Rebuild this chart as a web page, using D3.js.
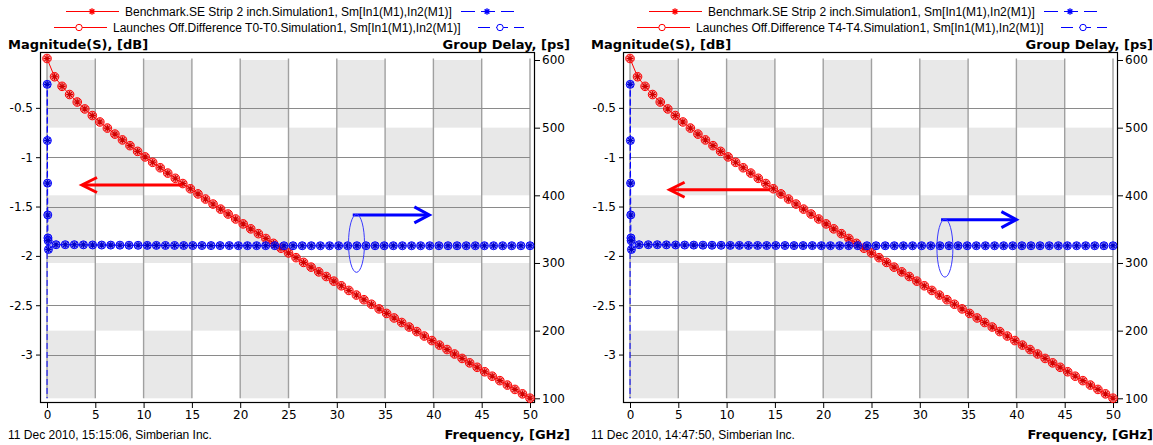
<!DOCTYPE html>
<html><head><meta charset="utf-8">
<script src="https://cdn.jsdelivr.net/npm/d3@7"></script>
<style>body{margin:0;background:#fff}svg{display:block}</style>
</head><body>
<svg id="chart" width="1153" height="445"></svg>
<script>
// ---------------- DATA ----------------
const freqRed = [0,0.78,1.56,2.34,3.13,3.91,4.69,5.47,6.25,7.03,7.81,8.59,9.38,10.16,10.94,11.72,12.5,13.28,14.06,14.84,15.63,16.41,17.19,17.97,18.75,19.53,20.31,21.09,21.88,22.66,23.44,24.22,25,25.78,26.56,27.34,28.13,28.91,29.69,30.47,31.25,32.03,32.81,33.59,34.38,35.16,35.94,36.72,37.5,38.28,39.06,39.84,40.63,41.41,42.19,42.97,43.75,44.53,45.31,46.09,46.88,47.66,48.44,49.22,50];
const magDb = [0,-0.185,-0.282,-0.365,-0.441,-0.511,-0.578,-0.643,-0.705,-0.766,-0.825,-0.883,-0.941,-0.997,-1.052,-1.107,-1.161,-1.214,-1.267,-1.32,-1.372,-1.424,-1.475,-1.526,-1.576,-1.626,-1.676,-1.726,-1.775,-1.824,-1.873,-1.922,-1.97,-2.018,-2.066,-2.114,-2.162,-2.209,-2.256,-2.303,-2.35,-2.397,-2.444,-2.49,-2.537,-2.583,-2.629,-2.675,-2.721,-2.767,-2.812,-2.858,-2.904,-2.949,-2.994,-3.039,-3.084,-3.129,-3.174,-3.219,-3.264,-3.309,-3.353,-3.398,-3.442];
const freqBlue = [0,0.02,0.04,0.06,0.08,0.1,0.12,0.15,0.94,1.89,2.83,3.77,4.72,5.66,6.6,7.55,8.49,9.43,10.38,11.32,12.26,13.21,14.15,15.09,16.04,16.98,17.92,18.87,19.81,20.75,21.7,22.64,23.58,24.53,25.47,26.42,27.36,28.3,29.25,30.19,31.13,32.08,33.02,33.96,34.91,35.85,36.79,37.74,38.68,39.62,40.57,41.51,42.45,43.4,44.34,45.28,46.23,47.17,48.11,49.06,50];
const delayPs = [0,564,481,418,371,337,333,320,327,327,327,326.8,326.6,326.5,326.4,326.3,326.2,326.1,326,326,325.9,325.9,325.8,325.8,325.8,325.7,325.7,325.7,325.6,325.6,325.6,325.6,325.6,325.5,325.5,325.5,325.5,325.5,325.5,325.5,325.5,325.5,325.5,325.5,325.5,325.5,325.5,325.5,325.5,325.5,325.5,325.5,325.5,325.5,325.5,325.5,325.5,325.5,325.5,325.5,325.5];

const freqTicks = [0,5,10,15,20,25,30,35,40,45,50];
const dbTicks = [-0.5,-1,-1.5,-2,-2.5,-3];
const dbTickLabels = ["-0.5","-1","-1.5","-2","-2.5","-3"];
const psTicks = [100,200,300,400,500,600];

const legendRow1 = "Benchmark.SE Strip 2 inch.Simulation1, Sm[In1(M1),In2(M1)]";
const legendRow2Left = "Launches Off.Difference T0-T0.Simulation1, Sm[In1(M1),In2(M1)]";
const legendRow2Right = "Launches Off.Difference T4-T4.Simulation1, Sm[In1(M1),In2(M1)]";
const dateLeft = "11 Dec 2010, 15:15:06, Simberian Inc.";
const dateRight = "11 Dec 2010, 14:47:50, Simberian Inc.";
const yLeftTitle = "Magnitude(S), [dB]";
const yRightTitle = "Group Delay, [ps]";
const xTitle = "Frequency, [GHz]";

// annotation arrows (data units)
const redArrowLeft = {from:[13.98,-1.282], to:[3.62,-1.282]};
const blueArrowLeft = {from:[31.65,371], to:[39.58,371], ellipse:[32.04,329]};
const redArrowRight = {from:[14.5,-1.33], to:[4.1,-1.33]};
const blueArrowRight = {from:[32.2,364], to:[40.0,364], ellipse:[32.6,322]};

// ---------------- DRAW ----------------
const svg = d3.select("#chart");
svg.append("rect").attr("width",1153).attr("height",445).attr("fill","#fff");

const RED = "#ff0000", BLUE = "#0000ff";
const TXT = "'Liberation Sans', Arial, sans-serif";
const TICKF = "'DejaVu Sans', sans-serif";

function starPath(s){ const d=s*0.72; return `M${-s},0H${s}M0,${-s}V${s}M${-d},${-d}L${d},${d}M${-d},${d}L${d},${-d}`; }

const panels = [
  {dx:0, row2:legendRow2Left, date:dateLeft, red:redArrowLeft, blue:blueArrowLeft, id:"p0"},
  {dx:583, row2:legendRow2Right, date:dateRight, red:redArrowRight, blue:blueArrowRight, id:"p1"}
];

panels.forEach(p => {
  const g = svg.append("g").attr("transform", `translate(${p.dx},0)`);
  const x = d3.scaleLinear().domain([0,50]).range([47,530]);
  const yL = d3.scaleLinear().domain([-3.442,0]).range([398.2,58.5]);
  const yR = d3.scaleLinear().domain([100,600]).range([398.3,60]);

  // checkerboard cells
  const xBands = d3.pairs(freqTicks);
  const yBands = d3.pairs(psTicks.slice().reverse());
  const cells = [];
  xBands.forEach((xb,i) => yBands.forEach((yb,j) => { if ((i+j)%2===0) cells.push({xb,yb}); }));
  g.append("g").selectAll("rect").data(cells).join("rect")
    .attr("x", d => x(d.xb[0])).attr("y", d => yR(d.yb[0]))
    .attr("width", d => x(d.xb[1]) - x(d.xb[0])).attr("height", d => yR(d.yb[1]) - yR(d.yb[0]))
    .attr("fill", "#e8e8e8");

  // grid
  g.append("g").selectAll("line").data(freqTicks).join("line")
    .attr("x1", d => x(d)).attr("x2", d => x(d)).attr("y1", yL(0)).attr("y2", yL(-3.442))
    .attr("stroke", "#a0a0a0").attr("stroke-width", 1.4);
  g.append("g").selectAll("line").data(dbTicks).join("line")
    .attr("x1", x(0)).attr("x2", x(50)).attr("y1", d => Math.round(yL(d))+0.5).attr("y2", d => Math.round(yL(d))+0.5)
    .attr("stroke", "#8a8a8a").attr("stroke-width", 1);

  // frame
  g.append("rect").attr("x",40.5).attr("y",52.5).attr("width",494).attr("height",350)
    .attr("fill","none").attr("stroke","#000").attr("stroke-width",1.2);

  // axes
  const styleAxis = sel => {
    sel.select(".domain").remove();
    sel.selectAll(".tick line").attr("stroke","#000");
    sel.selectAll(".tick text").attr("fill","#000").style("font-family",TICKF).style("font-size","12px");
  };
  g.append("g").attr("transform","translate(0,403)")
    .call(d3.axisBottom(x).tickValues(freqTicks).tickSize(5).tickPadding(2).tickFormat(d3.format("d")))
    .call(styleAxis);
  g.append("g").attr("transform","translate(41,0)")
    .call(d3.axisLeft(yL).tickValues(dbTicks).tickSize(5).tickPadding(3).tickFormat((d,i)=>dbTickLabels[i]))
    .call(styleAxis);
  g.append("g").attr("transform","translate(535,0)")
    .call(d3.axisRight(yR).tickValues(psTicks).tickSize(5).tickPadding(2).tickFormat(d3.format("d")))
    .call(styleAxis);

  // clip for lines
  g.append("clipPath").attr("id","clip"+p.id).append("rect").attr("x",41).attr("y",53).attr("width",494).attr("height",345.3);

  const redPts = freqRed.map((f,i)=>[f,magDb[i]]);
  const bluePts = freqBlue.map((f,i)=>[f,delayPs[i]]);

  // red line
  g.append("path").datum(redPts).attr("clip-path",`url(#clip${p.id})`)
    .attr("d", d3.line().x(d=>x(d[0])).y(d=>yL(d[1])))
    .attr("fill","none").attr("stroke",RED).attr("stroke-width",1);
  // blue line
  g.append("path").datum(bluePts).attr("clip-path",`url(#clip${p.id})`)
    .attr("d", d3.line().x(d=>x(d[0])).y(d=>yR(d[1])))
    .attr("fill","none").attr("stroke",BLUE).attr("stroke-width",1).attr("stroke-dasharray","6,3");

  // red markers
  const rm = g.append("g").selectAll("g").data(redPts).join("g")
    .attr("transform", d=>`translate(${x(d[0])},${yL(d[1])})`);
  rm.append("circle").attr("r",4.3).attr("fill","rgba(255,70,70,0.55)").attr("stroke",RED).attr("stroke-width",1);
  rm.append("path").attr("d",starPath(3.4)).attr("stroke","#d00000").attr("stroke-width",1.1);

  // blue markers (only in range)
  const bm = g.append("g").selectAll("g").data(bluePts.filter(d=>d[1]>=100 && d[1]<=600)).join("g")
    .attr("transform", d=>`translate(${x(d[0])},${yR(d[1])})`);
  bm.append("circle").attr("r",4).attr("fill","rgba(80,80,255,0.6)").attr("stroke",BLUE).attr("stroke-width",1);
  bm.append("path").attr("d",starPath(3.3)).attr("stroke","#0000c8").attr("stroke-width",1.1);

  // annotation arrows
  const ra = p.red, ba = p.blue;
  const rx1 = x(ra.from[0]), rx2 = x(ra.to[0]), ry = yL(ra.from[1]);
  g.append("line").attr("x1",rx1).attr("x2",rx2+2).attr("y1",ry).attr("y2",ry).attr("stroke",RED).attr("stroke-width",3);
  g.append("path").attr("d",`M${rx2+15},${ry-7.5}L${rx2},${ry}L${rx2+15},${ry+7.5}`)
    .attr("fill","none").attr("stroke",RED).attr("stroke-width",3).attr("stroke-linejoin","miter");
  const bx1 = x(ba.from[0]), bx2 = x(ba.to[0]), by = yR(ba.from[1]);
  g.append("line").attr("x1",bx1).attr("x2",bx2-2).attr("y1",by).attr("y2",by).attr("stroke",BLUE).attr("stroke-width",3);
  g.append("path").attr("d",`M${bx2-15},${by-8}L${bx2},${by}L${bx2-15},${by+8}`)
    .attr("fill","none").attr("stroke",BLUE).attr("stroke-width",3).attr("stroke-linejoin","miter");
  g.append("ellipse").attr("cx",x(ba.ellipse[0])).attr("cy",yR(ba.ellipse[1])).attr("rx",8).attr("ry",29)
    .attr("fill","none").attr("stroke","#3a3aff").attr("stroke-width",1);

  // legend
  const lg = g.append("g");
  lg.append("line").attr("x1",66).attr("x2",119).attr("y1",11.5).attr("y2",11.5).attr("stroke",RED).attr("stroke-width",1);
  lg.append("path").attr("transform","translate(92,11.5)").attr("d",starPath(3.2)).attr("stroke",RED).attr("stroke-width",1.3);
  lg.append("text").attr("x",125).attr("y",15.5).text(legendRow1)
    .style("font-family",TXT).style("font-size","12px").attr("fill","#000");
  lg.append("line").attr("x1",461).attr("x2",514).attr("y1",11.5).attr("y2",11.5).attr("stroke",BLUE).attr("stroke-width",1).attr("stroke-dasharray","14,6");
  lg.append("path").attr("transform","translate(487,11.5)").attr("d",starPath(3.2)).attr("stroke",BLUE).attr("stroke-width",1.3);
  lg.append("line").attr("x1",54).attr("x2",107).attr("y1",27.5).attr("y2",27.5).attr("stroke",RED).attr("stroke-width",1);
  lg.append("circle").attr("cx",79).attr("cy",27.5).attr("r",3.2).attr("fill","#fff").attr("stroke",RED).attr("stroke-width",1);
  lg.append("text").attr("x",113).attr("y",31.5).text(p.row2)
    .style("font-family",TXT).style("font-size","12px").attr("fill","#000");
  lg.append("line").attr("x1",478).attr("x2",524).attr("y1",27.5).attr("y2",27.5).attr("stroke",BLUE).attr("stroke-width",1).attr("stroke-dasharray","12,6");
  lg.append("circle").attr("cx",500).attr("cy",27.5).attr("r",3.2).attr("fill","#fff").attr("stroke",BLUE).attr("stroke-width",1);

  // titles
  const bold = s => s.style("font-family","'DejaVu Sans', sans-serif").style("font-weight","bold").style("font-size","13px").attr("fill","#000");
  g.append("text").attr("x",8).attr("y",49).text(yLeftTitle).call(bold);
  g.append("text").attr("x",570).attr("y",49).attr("text-anchor","end").text(yRightTitle).call(bold);
  g.append("text").attr("x",570).attr("y",439).attr("text-anchor","end").text(xTitle).call(bold);
  g.append("text").attr("x",8).attr("y",438.5).text(p.date)
    .style("font-family",TXT).style("font-size","12px").attr("fill","#000");
});
</script>
</body></html>
